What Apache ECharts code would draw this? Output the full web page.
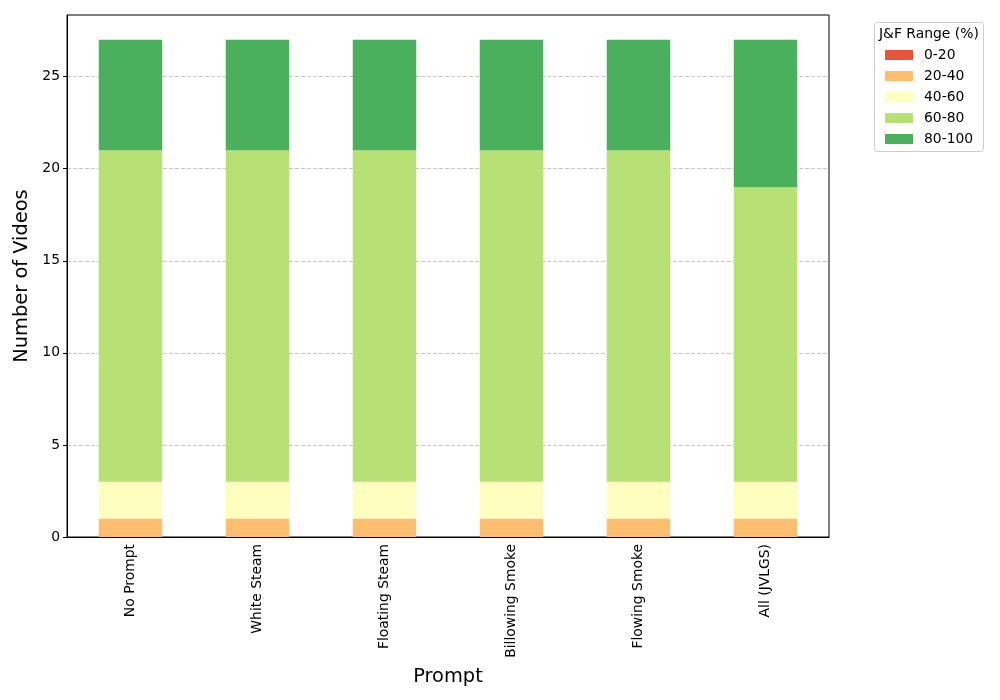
<!DOCTYPE html>
<html>
<head>
<meta charset="utf-8">
<script src="https://cdn.jsdelivr.net/npm/echarts@6/dist/echarts.min.js"></script>
<style>html,body{margin:0;padding:0;background:#fff;}#c{width:1000px;height:700px;}</style>
</head>
<body>
<div id="c"></div>
<script>
const categories = ['No Prompt', 'White Steam', 'Floating Steam', 'Billowing Smoke', 'Flowing Smoke', 'All (JVLGS)'];
const rangeNames = ['0-20', '20-40', '40-60', '60-80', '80-100'];
const s0_20 = [0, 0, 0, 0, 0, 0];
const s20_40 = [1, 1, 1, 1, 1, 1];
const s40_60 = [2, 2, 2, 2, 2, 2];
const s60_80 = [18, 18, 18, 18, 18, 16];
const s80_100 = [6, 6, 6, 6, 6, 8];
const yTicks = [0, 5, 10, 15, 20, 25];
const colors = ['#e9553a', '#fdbf6f', '#feffbe', '#b7e075', '#4bb05c'];

const seriesData = [s0_20, s20_40, s40_60, s60_80, s80_100];
const font = 'DejaVu Sans';
const chart = echarts.init(document.getElementById('c'));
chart.setOption({
  animation: false,
  textStyle: { fontFamily: font },
  grid: { left: 67, right: 171, top: 15, bottom: 163, show: true, borderColor: '#000', borderWidth: 1, backgroundColor: 'transparent', outerBoundsMode: 'none', containLabel: false },
  legend: {
    orient: 'vertical', left: 880, top: 43, itemWidth: 28, itemHeight: 10, itemGap: 7,
    icon: 'rect',
    textStyle: { fontFamily: font, fontSize: 13.9, color: '#000', padding: [0, 0, 0, 6] },
    data: rangeNames
  },
  graphic: [
    { type: 'rect', shape: { x: 874.5, y: 22.5, width: 109, height: 129, r: 3 }, style: { fill: '#fff', stroke: '#cccccc', lineWidth: 1 }, z: -1 },
    { type: 'text', left: 879, top: 27, style: { text: 'J&F Range (%)', font: '13.9px "DejaVu Sans"', fill: '#000' } }
  ],
  xAxis: {
    type: 'category', data: categories,
    name: 'Prompt', nameLocation: 'middle', nameGap: 130,
    nameTextStyle: { fontFamily: font, fontSize: 19.4, color: '#000' },
    axisLine: { lineStyle: { color: '#000', width: 1 } },
    axisTick: { alignWithLabel: true, length: 4, lineStyle: { color: '#000' } },
    axisLabel: { rotate: 90, fontSize: 13.9, color: '#000', margin: 7, fontFamily: font },
    splitLine: { show: false }
  },
  yAxis: {
    type: 'value', min: 0, max: 28.35, interval: 5,
    name: 'Number of Videos', nameLocation: 'middle', nameGap: 33,
    nameTextStyle: { fontFamily: font, fontSize: 19.4, color: '#000' },
    axisLine: { show: true, lineStyle: { color: '#000', width: 1 } },
    axisTick: { show: true, length: 4, lineStyle: { color: '#000' }, customValues: yTicks },
    axisLabel: { fontSize: 13.9, color: '#000', margin: 7, fontFamily: font, customValues: yTicks },
    splitLine: { show: true, lineStyle: { color: '#c6c6c6', type: [4, 2], width: 1 } }
  },
  series: rangeNames.map((n, i) => ({
    name: n, type: 'bar', stack: 'total', data: seriesData[i], barWidth: '50%',
    itemStyle: { color: colors[i] }
  }))
});
</script>
</body>
</html>
